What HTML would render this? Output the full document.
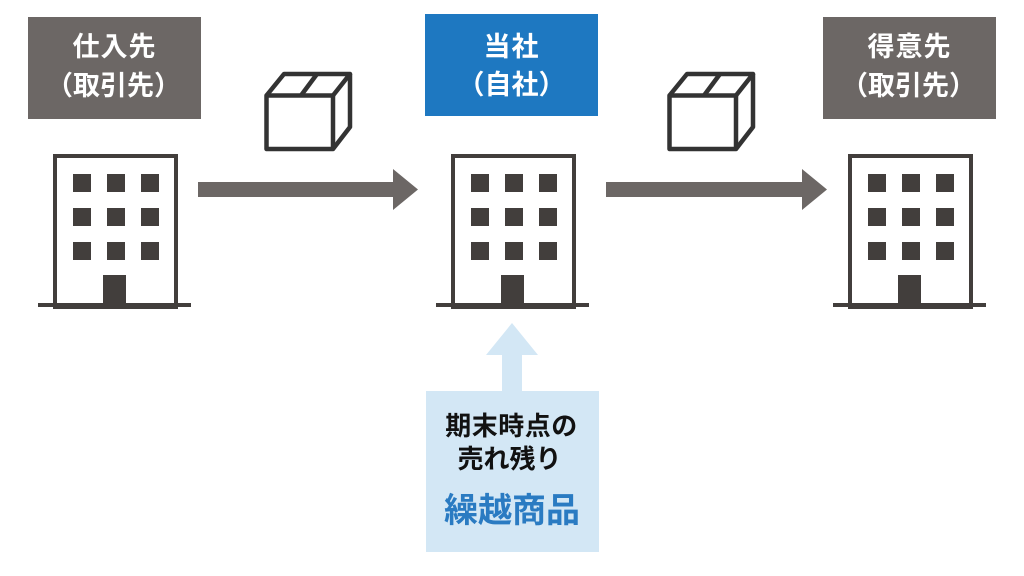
<!DOCTYPE html>
<html><head><meta charset="utf-8"><style>
html,body{margin:0;padding:0;background:#fff;}
svg{display:block;}
text{font-family:"Liberation Sans","Noto Sans CJK JP",sans-serif;font-weight:bold;}
</style></head><body>
<svg width="1024" height="576" viewBox="0 0 1024 576" xmlns="http://www.w3.org/2000/svg">
<rect width="1024" height="576" fill="#fff"/>
<!-- label boxes -->
<rect x="28" y="17" width="173" height="102" fill="#6c6765"/>
<text x="114.5" y="56" font-size="27" letter-spacing="1" fill="#fff" text-anchor="middle">仕入先</text>
<text x="113.5" y="95" font-size="27" letter-spacing="0" fill="#fff" text-anchor="middle">（取引先）</text>
<rect x="425" y="14" width="173" height="102" fill="#1e78c1"/>
<text x="511.5" y="56" font-size="27" letter-spacing="1" fill="#fff" text-anchor="middle">当社</text>
<text x="511.5" y="94" font-size="27" fill="#fff" text-anchor="middle">（自社）</text>
<rect x="823" y="17" width="173" height="102" fill="#6c6765"/>
<text x="909.5" y="56" font-size="27" letter-spacing="1" fill="#fff" text-anchor="middle">得意先</text>
<text x="908.5" y="95" font-size="27" fill="#fff" text-anchor="middle">（取引先）</text>

<!-- buildings -->
<defs>
<g id="bld">
<rect x="2" y="2" width="121" height="151" fill="none" stroke="#423e3c" stroke-width="4"/>
<rect x="-15" y="149" width="153" height="4" fill="#423e3c"/>
<rect x="20" y="20" width="18" height="18" fill="#423e3c"/>
<rect x="54" y="20" width="18" height="18" fill="#423e3c"/>
<rect x="88" y="20" width="18" height="18" fill="#423e3c"/>
<rect x="20" y="54" width="18" height="18" fill="#423e3c"/>
<rect x="54" y="54" width="18" height="18" fill="#423e3c"/>
<rect x="88" y="54" width="18" height="18" fill="#423e3c"/>
<rect x="20" y="88" width="18" height="18" fill="#423e3c"/>
<rect x="54" y="88" width="18" height="18" fill="#423e3c"/>
<rect x="88" y="88" width="18" height="18" fill="#423e3c"/>
<rect x="50" y="121" width="23" height="30" fill="#423e3c"/>
</g>
<g id="box" fill="none" stroke="#333" stroke-width="4.5" stroke-linejoin="round">
<rect x="266.5" y="95.5" width="66.5" height="53.5"/>
<path d="M266.5 95.5 L284 74 L350 74 L333 95.5"/>
<path d="M350 74 L350 127 L333 149"/>
<path d="M301 95.5 L317 74"/>
</g>
</defs>
<use href="#bld" x="53" y="154"/>
<use href="#bld" x="451" y="154"/>
<use href="#bld" x="848" y="154"/>

<use href="#box"/>
<use href="#box" x="403"/>

<!-- arrows -->
<polygon points="198,182 393,182 393,169 418,189.5 393,210 393,197 198,197" fill="#6c6765"/>
<polygon points="606,182 802,182 802,169 827,189.5 802,210 802,197 606,197" fill="#6c6765"/>

<!-- up arrow + box -->
<polygon points="512,323 538,355 522,355 522,392 502,392 502,355 486,355" fill="#d3e7f5"/>
<rect x="426" y="391" width="173" height="161" fill="#d3e7f5"/>
<text x="511.5" y="435" font-size="26" letter-spacing="0.5" fill="#111" text-anchor="middle">期末時点の</text>
<text x="509.5" y="468" font-size="26" letter-spacing="0" fill="#111" text-anchor="middle">売れ残り</text>
<text x="512" y="522" font-size="34" fill="#2a7bc2" text-anchor="middle">繰越商品</text>
</svg>
</body></html>
